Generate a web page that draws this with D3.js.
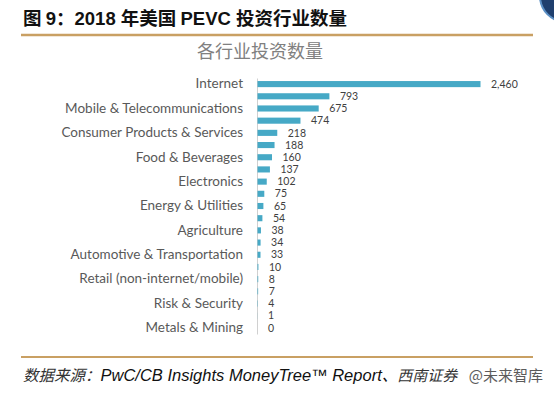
<!DOCTYPE html>
<html>
<head>
<meta charset="utf-8">
<script src="https://d3js.org/d3.v7.min.js"></script>
<style>
body { margin: 0; background: #fff; }
</style>
</head>
<body>
<svg id="mysvg" width="554" height="393"></svg>

<script>

// categories (every other one is labelled on the axis, as in the original)
var categories = ["Internet", "Healthcare", "Mobile & Telecommunications", "Software (non-internet/mobile)",
  "Consumer Products & Services", "Business Products & Services", "Food & Beverages",
  "Computer Hardware & Services", "Electronics", "Media (non-internet/mobile)", "Energy & Utilities",
  "Industrial", "Agriculture", "Financial (non-internet/mobile)", "Automotive & Transportation",
  "Leisure", "Retail (non-internet/mobile)", "Environmental Services", "Risk & Security",
  "Education", "Metals & Mining"]
var counts = [2460, 793, 675, 474, 218, 188, 160, 137, 102, 75, 65, 54, 38, 34, 33, 10, 8, 7, 4, 1, 0]

var subtitle = "各行业投资数量"

var svg = d3.select("#mysvg")

// header: title, mixed fonts like the original
var t = svg.append("text")
   .attr("x", 23).attr("y", 25)
   .attr("font-weight", "bold")
   .attr("font-size", 18.5)
   .attr("fill", "#111")
t.append("tspan").attr("font-family", "Noto Sans CJK SC").text("图 ")
t.append("tspan").attr("font-family", "Liberation Sans").text("9")
t.append("tspan").attr("font-family", "Noto Sans CJK SC").text("：")
t.append("tspan").attr("font-family", "Liberation Sans").text("2018 ")
t.append("tspan").attr("font-family", "Noto Sans CJK SC").text("年美国 ")
t.append("tspan").attr("font-family", "Liberation Sans").text("PEVC ")
t.append("tspan").attr("font-family", "Noto Sans CJK SC").text("投资行业数量")

svg.append("line")
   .attr("x1", 21).attr("x2", 533)
   .attr("y1", 35).attr("y2", 35)
   .attr("stroke", "#c9a063").attr("stroke-width", 2.5)

// little logo corner top right
svg.append("circle")
   .attr("cx", 566).attr("cy", -4).attr("r", 26)
   .attr("fill", "#1f3f6e").attr("stroke", "#5b8fc4").attr("stroke-width", 2)

svg.append("text")
   .attr("x", 260).attr("y", 58)
   .attr("text-anchor", "middle")
   .attr("font-family", "Noto Sans CJK SC")
   .attr("font-size", 18)
   .attr("fill", "#808080")
   .text(subtitle)

// chart
var x = d3.scaleLinear().domain([0, 2460]).range([257, 480])
var y = d3.scaleBand().domain(categories).range([78, 334]).paddingInner(0.5).paddingOuter(0.25)

var yAxis = d3.axisLeft(y)
   .tickSize(0)
   .tickPadding(14)
   .tickFormat(function(d, i){ return i % 2 == 0 ? d : "" })

var gy = svg.append("g")
   .attr("transform", "translate(257,0)")
   .call(yAxis)
gy.select(".domain").attr("stroke", "#d0d0d0")
gy.selectAll("text")
  .attr("font-family", "Lato")
  .attr("font-size", 13.5)
  .attr("fill", "#595959")

svg.selectAll(".bar").data(counts)
   .enter().append("rect")
   .attr("class", "bar")
   .attr("x", x(0) + 0.5)
   .attr("y", function(d, i){ return y(categories[i]) })
   .attr("height", y.bandwidth())
   .attr("width", function(d){ return Math.max(0, x(d) - x(0)) })
   .attr("fill", "#46a9c6")

svg.selectAll(".val").data(counts)
   .enter().append("text")
   .attr("class", "val")
   .attr("x", function(d){ return x(d) + 11 })
   .attr("y", function(d, i){ return y(categories[i]) + y.bandwidth() / 2 })
   .attr("dy", "0.35em")
   .attr("font-family", "Lato")
   .attr("font-size", 10.5)
   .attr("fill", "#404040")
   .text(function(d){ return d3.format(",")(d) })

// footer
svg.append("line")
   .attr("x1", 21).attr("x2", 533)
   .attr("y1", 357).attr("y2", 357)
   .attr("stroke", "#c9a063").attr("stroke-width", 2)

var foot = svg.append("text")
   .attr("x", 23).attr("y", 381)
   .attr("font-style", "italic")
   .attr("fill", "#111")
foot.append("tspan").attr("font-family", "Noto Sans CJK SC").attr("font-size", 15.5).attr("fill", "#333").text("数据来源：")
foot.append("tspan").attr("font-family", "Liberation Sans").attr("font-size", 16.5).text("PwC/CB Insights MoneyTree™ Report")
foot.append("tspan").attr("font-family", "Noto Sans CJK SC").attr("font-size", 15.5).text("、")
foot.append("tspan").attr("font-family", "Noto Sans CJK SC").attr("font-size", 15).attr("fill", "#333").text("西南证券")

svg.append("text")
   .attr("x", 543).attr("y", 381)
   .attr("text-anchor", "end")
   .attr("font-family", "Noto Sans CJK SC")
   .attr("font-size", 15)
   .attr("fill", "#333")
   .attr("opacity", 0.8)
   .text("@未来智库")

</script>
</body>
</html>
